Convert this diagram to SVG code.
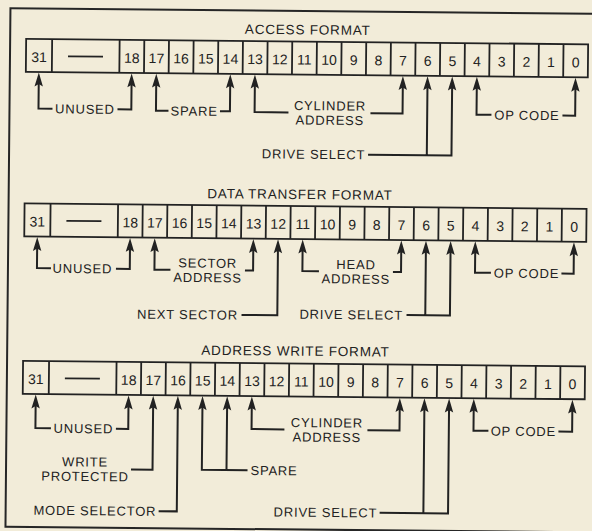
<svg xmlns="http://www.w3.org/2000/svg" xmlns:xlink="http://www.w3.org/1999/xlink" width="592" height="531" viewBox="0 0 592 531">
<style>
.bg{fill:#f2ecd9}
.frame{fill:none;stroke:#262626;stroke-width:2}
.box{fill:none;stroke:#222;stroke-width:1.8}
.num{font-family:"Liberation Sans",Arial,sans-serif;font-size:14px;fill:#222;text-anchor:middle}
.title{font-family:"Liberation Sans",Arial,sans-serif;font-size:13.5px;fill:#222;text-anchor:middle;letter-spacing:0.8px}
.lbl{font-family:"Liberation Sans",Arial,sans-serif;font-size:13px;fill:#222;text-anchor:middle;letter-spacing:0.8px}
.ln{fill:none;stroke:#222;stroke-width:2;stroke-linejoin:miter}
.ah{fill:#222}
</style>
<defs>
<path id="ah" d="M0,0 L4.2,14 L0,11.5 L-4.2,14 Z"/>
<g id="cells">
<rect class="box" x="24" y="0" width="562" height="33"/>
<path class="box" d="M50,0V33M117.5,0V33M142.16,0V33M166.82,0V33M191.48,0V33M216.14,0V33M240.8,0V33M265.46,0V33M290.12,0V33M314.78,0V33M339.44,0V33M364.1,0V33M388.76,0V33M413.42,0V33M438.08,0V33M462.74,0V33M487.4,0V33M512.06,0V33M536.72,0V33M561.38,0V33"/>
<path class="box" d="M66,17H101"/>
</g>
</defs>
<rect class="bg" x="0" y="0" width="592" height="531"/>
<g transform="rotate(0.55 296 265)">
<rect class="frame" x="8" y="11" width="610" height="518.5"/>

<g id="access-format">
<text class="title" x="305.5" y="34.3">ACCESS FORMAT</text>
<g transform="translate(0,41.5)">
<use href="#cells"/>
<text class="num" x="37" y="23">31</text><text class="num" x="129.83" y="23">18</text><text class="num" x="154.49" y="23">17</text><text class="num" x="179.15" y="23">16</text><text class="num" x="203.81" y="23">15</text><text class="num" x="228.47" y="23">14</text><text class="num" x="253.13" y="23">13</text><text class="num" x="277.79" y="23">12</text><text class="num" x="302.45" y="23">11</text><text class="num" x="327.11" y="23">10</text><text class="num" x="351.77" y="23">9</text><text class="num" x="376.43" y="23">8</text><text class="num" x="401.09" y="23">7</text><text class="num" x="425.75" y="23">6</text><text class="num" x="450.41" y="23">5</text><text class="num" x="475.07" y="23">4</text><text class="num" x="499.73" y="23">3</text><text class="num" x="524.39" y="23">2</text><text class="num" x="549.05" y="23">1</text><text class="num" x="573.71" y="23">0</text>
</g>
</g>

<g id="data-transfer-format">
<text class="title" x="299.3" y="199">DATA TRANSFER FORMAT</text>
<g transform="translate(0,206)">
<use href="#cells"/>
<text class="num" x="37" y="23">31</text><text class="num" x="129.83" y="23">18</text><text class="num" x="154.49" y="23">17</text><text class="num" x="179.15" y="23">16</text><text class="num" x="203.81" y="23">15</text><text class="num" x="228.47" y="23">14</text><text class="num" x="253.13" y="23">13</text><text class="num" x="277.79" y="23">12</text><text class="num" x="302.45" y="23">11</text><text class="num" x="327.11" y="23">10</text><text class="num" x="351.77" y="23">9</text><text class="num" x="376.43" y="23">8</text><text class="num" x="401.09" y="23">7</text><text class="num" x="425.75" y="23">6</text><text class="num" x="450.41" y="23">5</text><text class="num" x="475.07" y="23">4</text><text class="num" x="499.73" y="23">3</text><text class="num" x="524.39" y="23">2</text><text class="num" x="549.05" y="23">1</text><text class="num" x="573.71" y="23">0</text>
</g>
</g>

<g id="address-write-format">
<text class="title" x="296.3" y="355.7">ADDRESS WRITE FORMAT</text>
<g transform="translate(0,363.5)">
<use href="#cells"/>
<text class="num" x="37" y="23">31</text><text class="num" x="129.83" y="23">18</text><text class="num" x="154.49" y="23">17</text><text class="num" x="179.15" y="23">16</text><text class="num" x="203.81" y="23">15</text><text class="num" x="228.47" y="23">14</text><text class="num" x="253.13" y="23">13</text><text class="num" x="277.79" y="23">12</text><text class="num" x="302.45" y="23">11</text><text class="num" x="327.11" y="23">10</text><text class="num" x="351.77" y="23">9</text><text class="num" x="376.43" y="23">8</text><text class="num" x="401.09" y="23">7</text><text class="num" x="425.75" y="23">6</text><text class="num" x="450.41" y="23">5</text><text class="num" x="475.07" y="23">4</text><text class="num" x="499.73" y="23">3</text><text class="num" x="524.39" y="23">2</text><text class="num" x="549.05" y="23">1</text><text class="num" x="573.71" y="23">0</text>
</g>
</g>

<!-- labels row 1 -->
<g id="r1-unused"><text class="lbl" x="83.5" y="115.7">UNUSED</text></g>
<g id="r1-spare"><text class="lbl" x="192.7" y="116.7">SPARE</text></g>
<g id="r1-cylinder-address"><text class="lbl" x="328.5" y="110">CYLINDER</text><text class="lbl" x="328.5" y="124.5">ADDRESS</text></g>
<g id="r1-drive-select"><text class="lbl" x="312.5" y="158.7">DRIVE SELECT</text></g>
<g id="r1-op-code"><text class="lbl" x="525.5" y="117.7">OP CODE</text></g>

<!-- labels row 2 -->
<g id="r2-unused"><text class="lbl" x="82.5" y="275.2">UNUSED</text></g>
<g id="r2-sector-address"><text class="lbl" x="207.7" y="268.5">SECTOR</text><text class="lbl" x="207.7" y="283">ADDRESS</text></g>
<g id="r2-next-sector"><text class="lbl" x="188" y="320.2">NEXT SECTOR</text></g>
<g id="r2-head-address"><text class="lbl" x="356" y="268.5">HEAD</text><text class="lbl" x="356" y="283">ADDRESS</text></g>
<g id="r2-drive-select"><text class="lbl" x="351.7" y="318.7">DRIVE SELECT</text></g>
<g id="r2-op-code"><text class="lbl" x="526.6" y="275.7">OP CODE</text></g>

<!-- labels row 3 -->
<g id="r3-unused"><text class="lbl" x="85" y="435.2">UNUSED</text></g>
<g id="r3-write-protected"><text class="lbl" x="87" y="468.5">WRITE</text><text class="lbl" x="87" y="483">PROTECTED</text></g>
<g id="r3-mode-selector"><text class="lbl" x="97.3" y="517.2">MODE SELECTOR</text></g>
<g id="r3-spare"><text class="lbl" x="276" y="475.4">SPARE</text></g>
<g id="r3-cylinder-address"><text class="lbl" x="328.5" y="427">CYLINDER</text><text class="lbl" x="328.5" y="441.5">ADDRESS</text></g>
<g id="r3-drive-select"><text class="lbl" x="327.8" y="516.7">DRIVE SELECT</text></g>
<g id="r3-op-code"><text class="lbl" x="525" y="433.7">OP CODE</text></g>

<g id="connectors">
<!-- row 1 -->
<path class="ln" d="M37,85V111H51M116,111H129.83V85"/>
<path class="ln" d="M154.49,85V112H167M218.5,112H228.47V85"/>
<path class="ln" d="M253.13,85V112.5H287M369,112.5H401.09V85"/>
<path class="ln" d="M367,154H450.41V85M425.75,154V85"/>
<path class="ln" d="M475.07,85V113H490M561,113H573.71V85"/>
<g class="ah">
<use href="#ah" x="37" y="75"/><use href="#ah" x="129.83" y="75"/><use href="#ah" x="154.49" y="75"/><use href="#ah" x="228.47" y="75"/><use href="#ah" x="253.13" y="75"/><use href="#ah" x="401.09" y="75"/><use href="#ah" x="425.75" y="75"/><use href="#ah" x="450.41" y="75"/><use href="#ah" x="475.07" y="75"/><use href="#ah" x="573.71" y="75"/>
</g>
<!-- row 2 -->
<path class="ln" d="M37,249.5V270.5H51M116,270.5H129.83V249.5"/>
<path class="ln" d="M154.49,249.5V271H170.5M245,271H253.13V249.5"/>
<path class="ln" d="M277.79,249.5V315.5H242"/>
<path class="ln" d="M302.45,249.5V271H319M393,271H401.09V249.5"/>
<path class="ln" d="M407,314H450.41V249.5M425.75,314V249.5"/>
<path class="ln" d="M475.07,249.5V271H491M561.5,271H573.71V249.5"/>
<g class="ah">
<use href="#ah" x="37" y="239.5"/><use href="#ah" x="129.83" y="239.5"/><use href="#ah" x="154.49" y="239.5"/><use href="#ah" x="253.13" y="239.5"/><use href="#ah" x="277.79" y="239.5"/><use href="#ah" x="302.45" y="239.5"/><use href="#ah" x="401.09" y="239.5"/><use href="#ah" x="425.75" y="239.5"/><use href="#ah" x="450.41" y="239.5"/><use href="#ah" x="475.07" y="239.5"/><use href="#ah" x="573.71" y="239.5"/>
</g>
<!-- row 3 -->
<path class="ln" d="M37,407V430.5H52.5M117.5,430.5H129.83V407"/>
<path class="ln" d="M154.49,407V471H133"/>
<path class="ln" d="M179.15,407V512.5H161"/>
<path class="ln" d="M203.81,407V470.7H249.5M228.47,407V470.7"/>
<path class="ln" d="M253.13,407V429.5H286M369,429.5H401.09V407"/>
<path class="ln" d="M382,512H450.41V407M425.75,512V407"/>
<path class="ln" d="M475.07,407V429H490M560,429H573.71V407"/>
<g class="ah">
<use href="#ah" x="37" y="397"/><use href="#ah" x="129.83" y="397"/><use href="#ah" x="154.49" y="397"/><use href="#ah" x="179.15" y="397"/><use href="#ah" x="203.81" y="397"/><use href="#ah" x="228.47" y="397"/><use href="#ah" x="253.13" y="397"/><use href="#ah" x="401.09" y="397"/><use href="#ah" x="425.75" y="397"/><use href="#ah" x="450.41" y="397"/><use href="#ah" x="475.07" y="397"/><use href="#ah" x="573.71" y="397"/>
</g>
</g>
</g>
</svg>
